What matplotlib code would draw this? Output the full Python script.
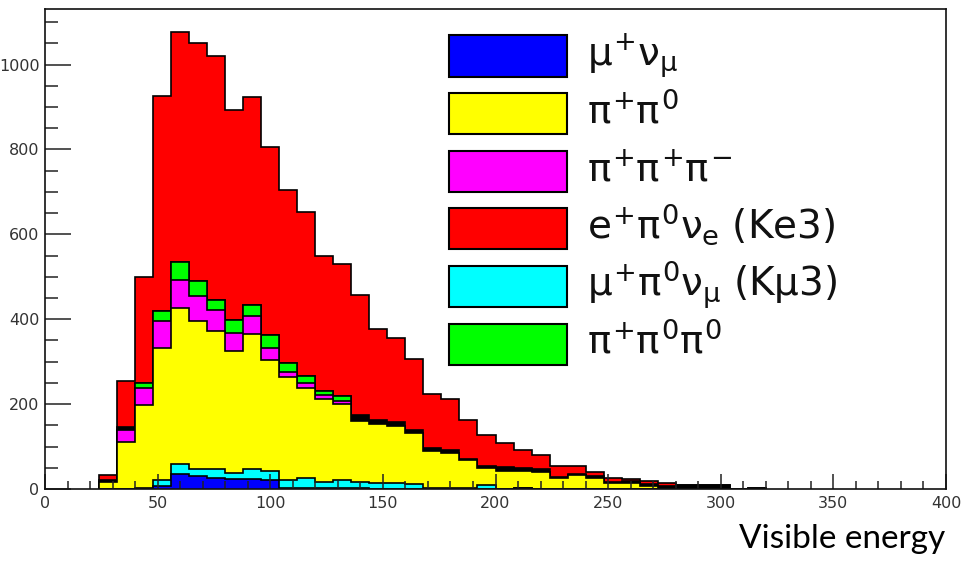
import matplotlib.pyplot as plt
import numpy as np
from matplotlib.patches import Rectangle
from matplotlib.ticker import MultipleLocator

plt.rcParams['mathtext.fontset'] = 'custom'
plt.rcParams['mathtext.rm'] = 'DejaVu Sans'
plt.rcParams['mathtext.it'] = 'DejaVu Sans'

#######  histogram contents, 8-unit bins from 24 to 320  #######
edges = np.arange(24, 321, 8)

mu_nu    = [0, 0, 1, 8, 35, 31, 27, 23, 24, 21, 2, 2, 2, 2, 2, 1, 1, 1, 0, 0, 0, 0, 0, 2, 0, 0, 0, 0, 0, 0, 0, 0, 0, 0, 0, 0, 0]
kmu3     = [0, 0, 1, 14, 23, 17, 20, 15, 22, 22, 19, 25, 15, 19, 15, 12, 12, 11, 2, 2, 2, 9, 0, 0, 0, 0, 0, 0, 0, 0, 0, 0, 0, 0, 0, 0, 0]
pipi0    = [17, 110, 196, 311, 369, 347, 325, 287, 319, 261, 243, 212, 196, 179, 144, 140, 135, 119, 88, 84, 66, 41, 43, 40, 39, 26, 33, 27, 14, 15, 8, 0, 0, 0, 0, 0, 0]
pipipi   = [0, 29, 39, 63, 66, 59, 49, 43, 42, 28, 12, 11, 8, 8, 0, 0, 0, 0, 0, 0, 0, 0, 0, 0, 0, 0, 0, 0, 0, 0, 0, 0, 0, 0, 0, 0, 0]
pipi0pi0 = [0, 0, 12, 23, 42, 35, 25, 30, 26, 32, 22, 16, 10, 11, 0, 0, 0, 0, 0, 0, 0, 0, 0, 0, 0, 0, 0, 0, 0, 0, 0, 0, 0, 0, 0, 0, 0]
other    = [5, 6, 0, 0, 0, 0, 0, 0, 0, 0, 0, 0, 0, 0, 13, 9, 10, 8, 6, 7, 3, 4, 8, 7, 7, 3, 3, 3, 2, 5, 3, 7, 10, 10, 10, 0, 3]
ke3      = [11, 109, 251, 508, 542, 561, 574, 495, 490, 441, 407, 386, 317, 310, 282, 214, 197, 168, 129, 119, 91, 73, 57, 43, 34, 25, 18, 11, 11, 3, 9, 8, 0, 0, 0, 0, 0]

labels = [r'$\mu^{+}\nu_{\mu}$', r'$\pi^{+}\pi^{0}$', r'$\pi^{+}\pi^{+}\pi^{-}$',
          r'$e^{+}\pi^{0}\nu_{e}$ (Ke3)', r'$\mu^{+}\pi^{0}\nu_{\mu}$ (K$\mu$3)', r'$\pi^{+}\pi^{0}\pi^{0}$']
leg_colors = ['#0000ff', '#ffff00', '#ff00ff', '#ff0000', '#00ffff', '#00ff00']

# stacking order, bottom to top
stack = [mu_nu, kmu3, pipi0, pipipi, pipi0pi0, other, ke3]
colors = ['#0000ff', '#00ffff', '#ffff00', '#ff00ff', '#00ff00', '#000000', '#ff0000']
cum = np.cumsum(np.array(stack, dtype=float), axis=0)

fig = plt.figure(figsize=(9.67, 5.69), dpi=100)
ax = fig.add_axes([45/967, 80/569, 901/967, 480/569])

# draw like a THStack: total first, then each lower sum painted over it
for k in reversed(range(len(stack))):
    ax.stairs(cum[k], edges, baseline=0, fill=True, facecolor=colors[k],
              edgecolor='k', linewidth=1.2)

ax.set_xlim(0, 400)
ax.set_ylim(0, 1131)
ax.set_xticks(np.arange(0, 401, 50))
ax.set_yticks(np.arange(0, 1001, 200))
ax.xaxis.set_minor_locator(MultipleLocator(10))
ax.yaxis.set_minor_locator(MultipleLocator(50))
ax.tick_params(which='both', direction='in', width=1.1, colors='#222222', labelcolor='#333333')
ax.tick_params(axis='x', which='major', length=11, pad=5)
ax.tick_params(axis='x', which='minor', length=6)
ax.tick_params(axis='y', which='major', length=19, pad=4)
ax.tick_params(axis='y', which='minor', length=9.5)
for lab in ax.get_xticklabels() + ax.get_yticklabels():
    lab.set_family(['Liberation Sans Narrow', 'DejaVu Sans'])
    lab.set_fontsize(11.5)
for sp in ax.spines.values():
    sp.set_linewidth(1.2)
    sp.set_color('#111111')

# legend without frame
for i in range(len(labels)):
    yc = 56 + i*57.6
    fig.add_artist(Rectangle((449/967, 1 - (yc + 20.5)/569), 118/967, 41/569,
                             transform=fig.transFigure, facecolor=leg_colors[i],
                             edgecolor='k', linewidth=1.5))
    fig.text(587/967, 1 - (yc + 10)/569, labels[i], fontsize=28,
             family='DejaVu Sans', color='#111111', va='baseline', ha='left')

fig.text(945/967, 1 - 548/569, 'Visible energy', fontsize=24, family='Lato',
         ha='right', va='baseline', color='black')

plt.savefig('out.png')
